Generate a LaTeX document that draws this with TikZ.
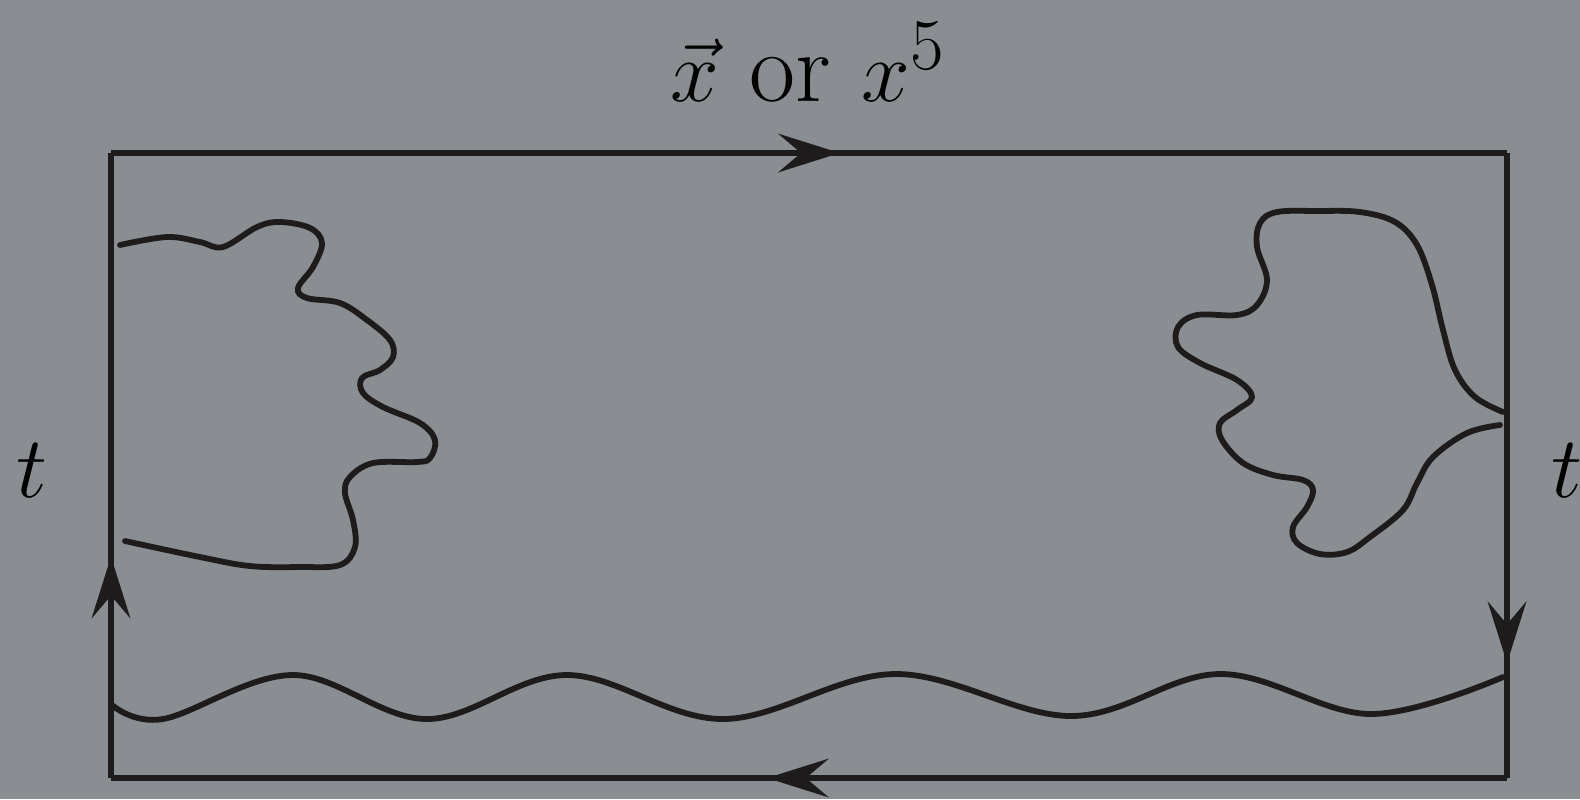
\documentclass[tikz,border=0pt]{standalone}
\usepackage{tikz}
\usetikzlibrary{arrows.meta,decorations.markings}
\definecolor{paper}{RGB}{138,141,145}
\definecolor{ink}{RGB}{30,27,28}

\begin{document}
\begin{tikzpicture}[x=0.01cm, y=-0.01cm, >=Stealth,
    ln/.style={draw=ink, line width=1.5pt},
    wig/.style={draw=ink, line width=1.65pt, line cap=round},
    midarr/.style={postaction={decorate}, decoration={markings,
        mark=at position #1 with {\arrow[ink]{Stealth[length=17.5pt, width=11pt, inset=6.5pt]}}}},
    lab/.style={font=\fontsize{28.5}{34}\selectfont, text=black, inner sep=0pt, anchor=base}]
  % page
  \path[use as bounding box] (0,0) rectangle (1580,799);
  \fill[paper] (0,0) rectangle (1580,799);
  % corners
  \coordinate (nw) at (111,153);
  \coordinate (ne) at (1507,153);
  \coordinate (se) at (1507,778);
  \coordinate (sw) at (111,778);
  % labels
  \node[lab] (xlab) at (808,101) {$\vec{x}$ or $x^5$};
  \node[lab] (tl) at (32,497) {$t$};
  \node[lab] (tr) at (1567,497) {$t$};
  % contour
  \draw[ln, midarr=0.522] (nw) -- (ne);
  \draw[ln, midarr=0.816] (ne) -- (se);
  \draw[ln, midarr=0.53] (se) -- (sw);
  \draw[ln, midarr=0.354] (sw) -- (nw);
  % left blob
  \draw[wig] plot[smooth, tension=0.6] coordinates {
    (120,245) (167,237) (200,242) (223,247) (257,227) (280,222) (310,228)
    (322,243) (313,267) (298,288) (307,298) (340,303) (367,320) (390,340)
    (393,357) (380,370) (362,378) (363,393) (383,407) (420,423) (435,440)
    (430,458) (417,462) (373,463) (350,477) (345,493) (353,520) (355,547)
    (340,565) (300,567) (250,566) (200,557) (125,541)};
  % right blob
  \draw[wig] plot[smooth, tension=0.6] coordinates {
    (1503,412) (1475,397) (1455,370) (1443,330) (1432,285) (1417,245)
    (1395,222) (1360,212) (1317,211) (1277,212) (1260,223) (1257,247)
    (1267,280) (1257,305) (1237,315) (1197,315) (1178,327) (1178,347)
    (1200,363) (1237,380) (1252,397) (1237,410) (1220,423) (1222,440)
    (1243,463) (1273,475) (1303,480) (1313,490) (1307,507) (1293,527)
    (1297,543) (1320,554) (1347,552) (1370,537) (1403,510) (1417,483)
    (1433,457) (1467,433) (1500,425)};
  % bottom wave
  \draw[wig] plot[smooth, tension=0.6] coordinates {
    (112,705) (163,719) (293,675) (427,719) (567,675) (723,719)
    (895,674) (1071,716) (1220,674) (1370,714) (1503,677)};
\end{tikzpicture}
\end{document}
